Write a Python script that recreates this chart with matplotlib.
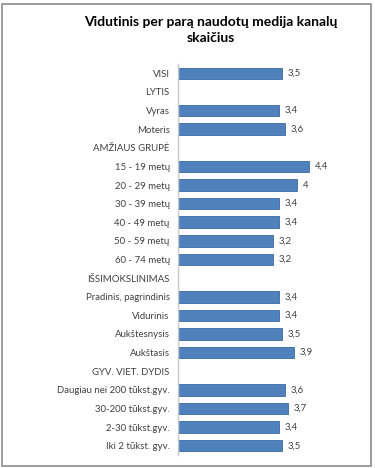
import matplotlib
matplotlib.use("Agg")
import matplotlib.pyplot as plt
from matplotlib.patches import Rectangle

categories = ["VISI", "LYTIS", "Vyras", "Moteris", "AMŽIAUS GRUPĖ",
              "15 - 19 metų", "20 - 29 metų", "30 - 39 metų", "40 - 49 metų",
              "50 - 59 metų", "60 - 74 metų", "IŠSIMOKSLINIMAS",
              "Pradinis, pagrindinis", "Vidurinis", "Aukštesnysis", "Aukštasis",
              "GYV. VIET. DYDIS", "Daugiau nei 200 tūkst.gyv.", "30-200 tūkst.gyv.",
              "2-30 tūkst.gyv.", "Iki 2 tūkst. gyv."]
values = [3.5, None, 3.4, 3.6, None,
          4.4, 4.0, 3.4, 3.4, 3.2, 3.2, None,
          3.4, 3.4, 3.5, 3.9, None,
          3.6, 3.7, 3.4, 3.5]
title = "Vidutinis per parą naudotų medija kanalų\nskaičius"

plt.rcParams['font.family'] = ['Lato', 'DejaVu Sans']

W, H = 375, 468
fig = plt.figure(figsize=(W / 100, H / 100), dpi=100)

top_px, bot_px = 64, 455
left_px, right_px = 178, 357
ax = fig.add_axes([left_px / W, 1 - bot_px / H, (right_px - left_px) / W, (bot_px - top_px) / H])

n = len(categories)
ypos = list(range(n))
for i, v in enumerate(values):
    if v is None:
        continue
    ax.barh(i, v, height=0.62, color="#4F81BD", edgecolor="#3C6A9E", linewidth=0.6)
    ax.text(v + 0.18, i, f"{v:g}".replace(".", ","), va="center", ha="left",
            fontsize=6.9, color="#404040")

ax.set_xlim(0, 6.0)
ax.set_ylim(n - 0.5, -0.5)
ax.set_yticks(ypos)
ax.set_yticklabels(categories, fontsize=6.9, color="#404040")
ax.tick_params(axis="y", length=0, pad=6)
ax.set_xticks([])
for s in ["top", "right", "bottom"]:
    ax.spines[s].set_visible(False)
ax.spines["left"].set_color("#C8C8C8")
ax.spines["left"].set_linewidth(1.0)

fig.text(211 / W, 1 - 30 / H, title, ha="center", va="center", fontsize=10,
         fontweight="bold", color="#000000", linespacing=1.3)

fig.patches.append(Rectangle((2 / W, 2 / H), (W - 6) / W, (H - 6) / H,
                             transform=fig.transFigure, fill=False,
                             edgecolor="#8C8C8C", linewidth=1.2))

fig.savefig("out.png", dpi=100)
